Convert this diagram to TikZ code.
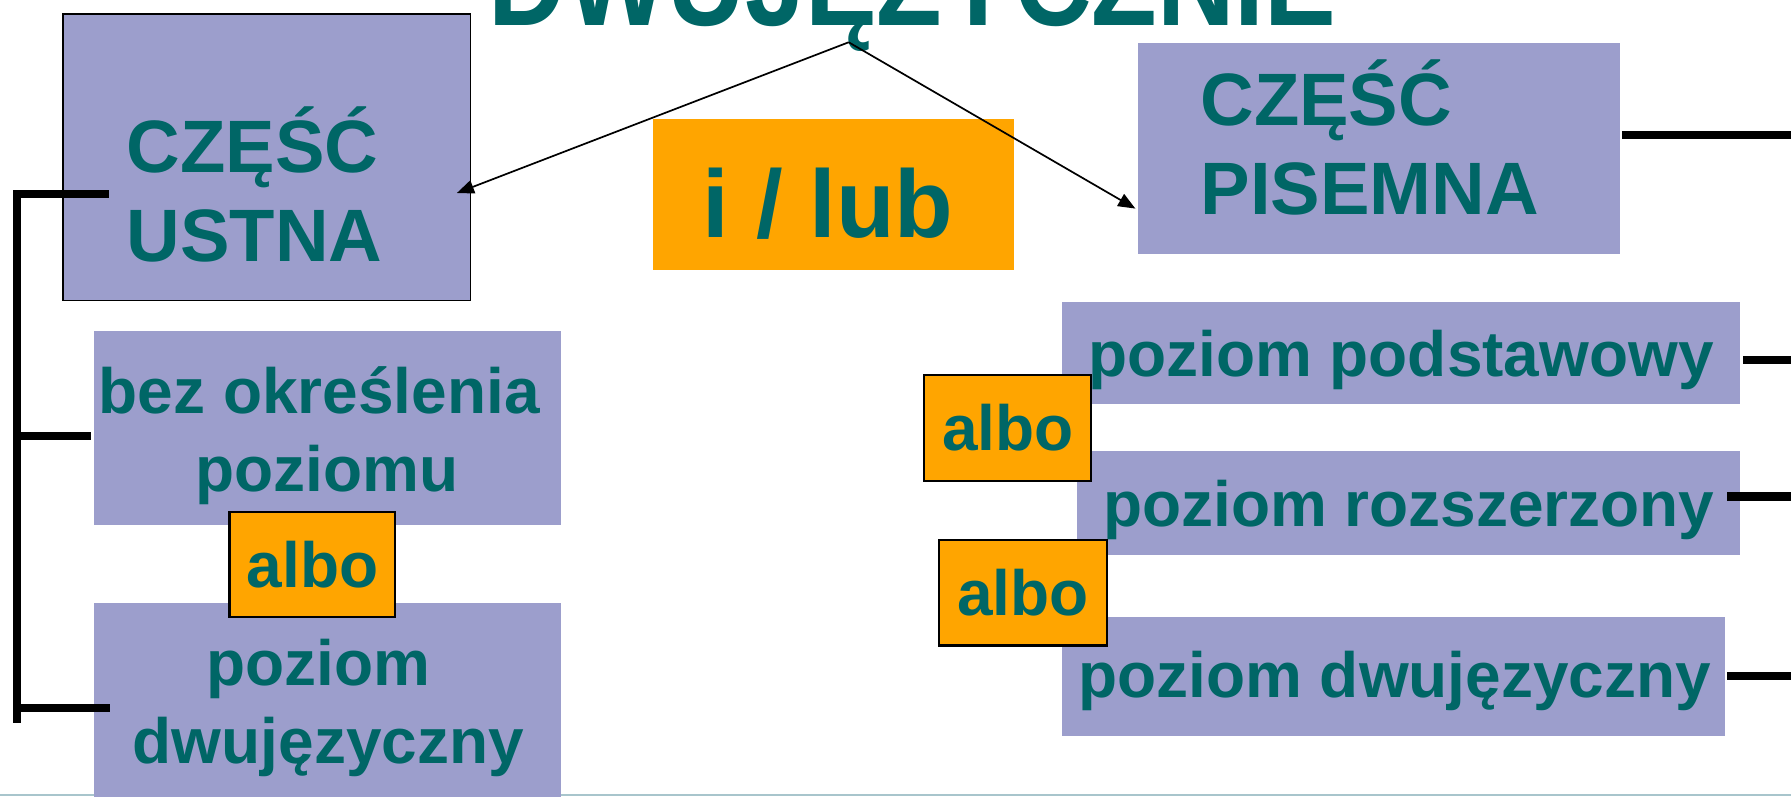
\documentclass[tikz,border=0pt]{standalone}
\usepackage{fontspec}
\setmainfont{Liberation Sans}
\usetikzlibrary{fit,arrows.meta}
\definecolor{lav}{RGB}{156,158,204}
\definecolor{tealtxt}{RGB}{0,102,102}
\definecolor{orng}{RGB}{255,165,0}
\definecolor{slideline}{RGB}{168,197,204}
\begin{document}
\begin{tikzpicture}[x=0.5pt,y=-0.5pt,
  lavbox/.style={fill=lav, inner sep=0pt, outer sep=0pt},
  lavframe/.style={lavbox, draw=black, line width=0.75pt},
  orbox/.style={fill=orng, inner sep=0pt, outer sep=0pt},
  albobox/.style={orbox, draw=black, line width=1pt},
  txt/.style={text=tealtxt, inner sep=0pt, outer sep=0pt, anchor=base},
  part/.style={txt, anchor=base west, font=\fontsize{32.5}{39}\selectfont\bfseries},
  lvl/.style={txt, font=\fontsize{28}{34}\selectfont\bfseries},
  orword/.style={txt, font=\fontsize{42}{50}\selectfont\bfseries},
  titletxt/.style={txt, font=\fontsize{55}{66}\selectfont\bfseries},
  bracket/.style={line width=3.5pt},
  rline/.style={line width=3.75pt},
  conn/.style={line width=0.75pt, -{Triangle[length=7.5pt,width=6pt]}}
]
\clip (0,0) rectangle (1568,697);
% slide edge line
\draw[slideline, line width=1pt] (0,696) -- (1568,696);
% title
\node[titletxt] (title) at (799,22) {\scalebox{0.855}[1]{DWUJĘZYCZNIE}};
\coordinate (apex) at (743,37);
% main boxes
\node[lavframe, fit={(55,12) (412,263)}] (ustna) {};
\node[part] (ustnaA) at (111,151) {CZĘŚĆ};
\node[part] (ustnaB) at (111,229) {USTNA};
\node[orbox, fit={(572,104) (888,236)}] (ilub) {};
\node[orword] (ilubtxt) at (725,208) {i / lub};
\node[lavbox, fit={(996,38) (1418,222)}] (pisemna) {};
\node[part] (pisA) at (1051,110) {CZĘŚĆ};
\node[part] (pisB) at (1051,188) {PISEMNA};
% left levels
\node[lavbox, fit={(82,290) (491,460)}] (bez) {};
\node[lvl] (bezA) at (279.5,362) {bez określenia};
\node[lvl] (bezB) at (286.5,430) {poziomu};
\node[lavbox, fit={(82,528) (491,700)}] (dwuL) {};
\node[lvl] (dwuLA) at (278.5,600) {poziom};
\node[lvl] (dwuLB) at (287.5,668) {dwujęzyczny};
\node[albobox, fit={(201,448) (346,540)}] (alboL) {};
\node[lvl] (alboLt) at (273.5,514) {albo};
% right levels
\node[lavbox, fit={(930,264) (1523,354)}] (podst) {};
\node[lvl] (podstt) at (1226.5,330) {poziom podstawowy};
\node[lavbox, fit={(943,395) (1523,486)}] (rozsz) {};
\node[lvl] (rozszt) at (1233.5,461) {poziom rozszerzony};
\node[lavbox, fit={(930,540) (1510,644)}] (dwuR) {};
\node[lvl] (dwuRt) at (1221,611) {poziom dwujęzyczny};
\node[albobox, fit={(809,328) (955,421)}] (albo1) {};
\node[lvl] (albo1t) at (882.5,394) {albo};
\node[albobox, fit={(822,473) (969,565)}] (albo2) {};
\node[lvl] (albo2t) at (895.5,539) {albo};
% bracket on the left
\draw[bracket] (95,170) -- (15,170) -- (15,633);
\draw[bracket] (15,382) -- (80,382);
\draw[bracket] (15,620) -- (96,620);
% lines on the right
\draw[rline] ([xshift=1pt,yshift=6pt]pisemna.east) -- ++(160,0);
\draw[rline] ([xshift=1.5pt,yshift=-3pt]podst.east) -- ++(60,0);
\draw[rline] ([xshift=-5.5pt,yshift=3pt]rozsz.east) -- ++(70,0);
\draw[rline] ([xshift=1pt]dwuR.east) -- ++(70,0);
% arrows
\draw[conn] (apex) -- ([xshift=-6pt]ustna.-10);
\draw[conn] (apex) -- ([xshift=-1pt]pisemna.194);
\end{tikzpicture}
\end{document}
